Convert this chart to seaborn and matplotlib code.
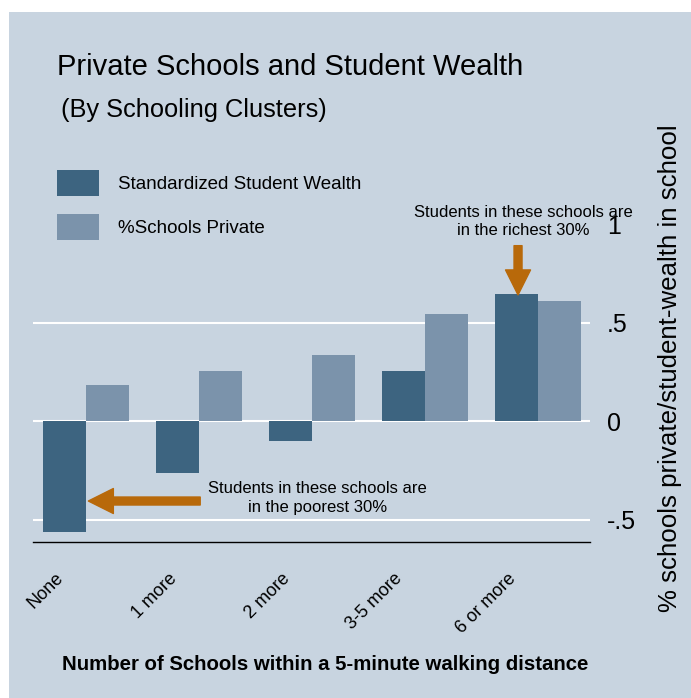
import pandas as pd
import matplotlib.pyplot as plt
import seaborn as sns
from matplotlib.patches import Rectangle
from matplotlib.transforms import ScaledTranslation

# Data
categories = ['None', '1 more', '2 more', '3-5 more', '6 or more']
student_wealth = [-0.563, -0.264, -0.100, 0.254, 0.645]
schools_private = [0.183, 0.254, 0.335, 0.543, 0.609]
series_names = ['Standardized Student Wealth', '%Schools Private']
ytick_values = [-0.5, 0, 0.5, 1]
ytick_labels = ['-.5', '0', '.5', '1']

df = pd.DataFrame({
    'group': categories * 2,
    'series': [series_names[0]] * 5 + [series_names[1]] * 5,
    'value': student_wealth + schools_private,
})

bg = '#c8d4e0'
dark = '#3d6480'
light = '#7b93ab'
orange = '#b8690a'

sns.set_style('white')
plt.rcParams['font.family'] = ['Liberation Sans', 'DejaVu Sans']
plt.rcParams['text.color'] = 'black'
plt.rcParams['xtick.color'] = 'black'
plt.rcParams['ytick.color'] = 'black'

fig = plt.figure(figsize=(6.91, 6.98), dpi=100)
fig.patch.set_facecolor('white')
# shaded panel (white margin on left and top)
fig.patches.append(Rectangle((9 / 691, 0), 1, 1 - 12 / 698, transform=fig.transFigure,
                             facecolor=bg, edgecolor='none', zorder=-10))

ax = fig.add_axes([33 / 691, 1 - 542 / 698, (590 - 33) / 691, (542 - 224) / 698])
ax.set_facecolor(bg)

sns.barplot(data=df, x='group', y='value', hue='series', order=categories,
            hue_order=series_names, palette=[dark, light], width=0.76,
            linewidth=0, saturation=1, ax=ax, zorder=3)

ax.set_xlim(-0.47, 4.46)
ax.set_ylim(-0.614, 1.0)

# gridlines
for v in [-0.5, 0, 0.5]:
    ax.axhline(v, color='white', lw=1.5, zorder=1)

for s in ['top', 'left', 'right']:
    ax.spines[s].set_visible(False)
ax.spines['bottom'].set_color('black')
ax.spines['bottom'].set_linewidth(1.0)

ax.yaxis.tick_right()
ax.set_yticks(ytick_values)
ax.set_yticklabels(ytick_labels, fontsize=18)
ax.tick_params(axis='y', length=0, pad=12)
ax.set_ylabel('')

ax.set_xticks(range(len(categories)))
ax.set_xticklabels(categories, rotation=45, ha='right', va='top', fontsize=13)
ax.tick_params(axis='x', length=0, pad=20)
offset = ScaledTranslation(-19 / 100, 0, fig.dpi_scale_trans)
for lab in ax.get_xticklabels():
    lab.set_transform(lab.get_transform() + offset)
ax.set_xlabel('')

fig.text(62 / 691, 1 - 664 / 698, 'Number of Schools within a 5-minute walking distance',
         fontsize=14.7, fontweight='bold', ha='left', va='center')
fig.text(670 / 691, 1 - 368 / 698, '% schools private/student-wealth in school',
         fontsize=18.6, rotation=90, ha='center', va='center')

fig.text(57 / 691, 1 - 67 / 698, 'Private Schools and Student Wealth',
         fontsize=21, ha='left', va='center')
fig.text(61 / 691, 1 - 110 / 698, '(By Schooling Clusters)',
         fontsize=18.3, ha='left', va='center')

# legend
handles, labels = ax.get_legend_handles_labels()
ax.legend(handles, labels, loc='upper left', bbox_to_anchor=(57 / 691, 1 - 170 / 698),
          bbox_transform=fig.transFigure, frameon=False, fontsize=13.5,
          handlelength=2.24, handleheight=1.72, labelspacing=1.0, handletextpad=1.0,
          borderpad=0, borderaxespad=0)

# annotations
arrow_style = 'simple,head_length=1.125,head_width=1.125,tail_width=0.36'
ax.annotate('', xy=(0.02, -0.406), xytext=(1.01, -0.406),
            arrowprops=dict(arrowstyle=arrow_style, color=orange, mutation_scale=16,
                            shrinkA=0, shrinkB=0),
            zorder=5)
ax.text(2.05, -0.39, 'Students in these schools are\nin the poorest 30%',
        fontsize=12, ha='center', va='center', linespacing=1.3)

ax.annotate('', xy=(3.823, 0.64), xytext=(3.823, 0.89),
            arrowprops=dict(arrowstyle=arrow_style, color=orange, mutation_scale=16,
                            shrinkA=0, shrinkB=0),
            zorder=5)
ax.text(3.867, 1.012, 'Students in these schools are\nin the richest 30%',
        fontsize=12, ha='center', va='center', linespacing=1.2)

fig.savefig('out.png', dpi=100, facecolor=fig.get_facecolor())
